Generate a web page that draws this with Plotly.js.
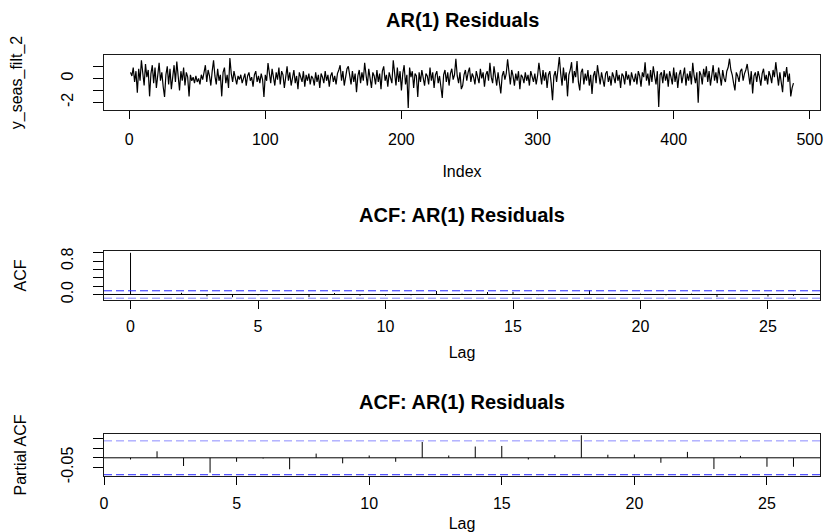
<!DOCTYPE html>
<html>
<head>
<meta charset="utf-8">
<script src="https://cdn.plot.ly/plotly-3.0.1.min.js"></script>
<style>
  html, body { margin: 0; padding: 0; background: #fff; }
  #chart { width: 827px; height: 532px; }
</style>
</head>
<body>
<div id="chart"></div>
<script>
// ---- Data ----
const residuals = [
  0.5, 0.2, 0.9, -0.3, 0.6, -1.2, 0.8, -0.2, 1.5, 0.3,
  -0.6, 1.2, 0.1, 0.7, -1.5, 0.4, 1.1, -0.4, 0.9, -0.8,
  0.6, 1.3, -0.2, 0.5, -0.7, -1.55, 0.3, 1.0, -0.5, 0.8,
  -0.9, 0.4, 1.1, -0.3, 1.4, 0.2, -1.0, 0.6, -0.2, 0.9,
  -0.6, 0.5, 0.1, -1.5, 0.3, -0.2, 0.1, -0.4, 0.2, -0.3,
  0.0, -0.5, 0.3, -0.1, 0.4, 1.1, -0.3, 0.7, 0.2, -0.6,
  0.6, 1.5, 0.2, -0.5, 0.8, -0.2, 0.3, -1.5, 0.5, 0.9,
  -0.4, 0.3, -0.8, 1.7, 0.4, -0.3, 0.6, 0.1, -0.5, 0.2,
  -0.1, 0.3, -0.4, 0.0, 0.4, -0.6, 0.2, 0.5, -0.2, 0.1,
  -0.7, 0.3, 0.6, -0.3, 0.2, -0.4, 0.4, -0.1, -1.55, 0.3,
  -0.2, 1.27, 0.5, -0.4, 0.8, 0.2, -0.6, 0.5, -0.1, 0.9,
  -0.5, 0.6, 0.3, -0.8, 0.4, 1.0, -0.2, 0.5, -0.6, 0.3,
  0.7, -0.4, 0.2, -0.9, 0.5, 0.1, -0.3, 0.6, -0.7, 0.3,
  -0.2, 0.4, -0.5, 0.2, 0.0, -0.6, 0.5, -0.3, 0.3, -0.8,
  0.4, 0.1, -0.4, 0.6, -0.2, 0.3, -0.7, 0.2, 0.5, -0.3,
  0.2, -0.5, 0.4, 0.7, 1.1, -0.2, 0.6, -0.6, 0.3, 0.8,
  1.0, 0.1, -0.5, 0.6, -0.3, 0.4, -1.15, 0.2, 0.7, -0.4,
  0.5, -0.2, 1.3, 0.3, -0.6, 0.8, 0.0, -0.8, 0.5, 0.2,
  -0.5, 0.7, -0.3, 0.4, -0.9, 0.6, 1.0, -0.2, 0.3, -0.7,
  0.5, 0.1, -0.4, 1.5, 0.2, -0.6, 0.9, -0.3, 0.6, -1.0,
  0.4, 1.1, -0.5, 0.3, -2.47, 0.9, 0.1, 0.6, -0.8, 0.4,
  0.2, -1.55, 0.5, -0.3, 0.7, 0.0, -0.6, 0.4, 0.2, -0.5,
  0.9, -0.2, 0.5, -0.8, 0.3, 0.6, -0.4, 0.2, -0.9, -1.64,
  0.3, 0.7, -0.3, 0.5, -0.6, 0.4, 0.8, -0.1, 0.3, 1.64,
  0.2, -0.4, 0.5, -0.9, -0.6, 0.3, 0.7, -0.2, 0.5, 0.9,
  -0.3, 0.4, 0.1, -0.5, 0.6, 0.2, -0.4, 0.8, 0.0, 0.5,
  -0.7, 0.3, 0.6, -0.2, 1.3, 0.1, -0.4, 1.0, 0.3, -0.6,
  0.5, -0.3, -1.25, 0.2, 0.6, -0.1, 0.4, 1.6, 0.5, -0.5,
  0.7, 0.2, -0.6, 0.4, -0.2, 0.6, -0.9, 0.3, 0.1, -0.4,
  0.5, -0.2, 0.3, -0.6, 0.6, 0.0, -0.3, 0.4, -0.5, 0.2,
  1.3, 0.4, -0.5, 0.7, -0.2, 0.5, -0.8, 0.3, 0.6, -0.4,
  -1.83, 0.2, 0.6, -0.3, 0.8, 1.78, 0.4, -0.6, 0.9, -0.2,
  0.5, -1.5, 0.3, 0.7, 1.35, -0.4, 0.6, 0.1, 1.45, -0.3,
  -1.0, 0.5, 0.8, -0.5, 0.4, -0.2, 0.7, -0.6, 0.3, -1.3,
  0.2, 0.6, -0.4, 1.1, 0.3, -0.5, 0.5, 0.0, -0.7, 0.4,
  0.6, -0.3, 0.2, -0.6, 0.5, 0.1, -0.4, 0.7, -0.2, 0.3,
  -0.8, 0.4, 0.2, -0.5, 0.6, -0.1, 0.3, -0.6, 0.5, 0.0,
  -0.3, 0.4, -0.5, 0.6, 0.2, -0.7, 0.5, 0.1, 1.35, -0.2,
  0.4, -0.6, 0.7, -0.3, 1.0, 0.2, -0.5, 0.6, -2.39, 0.3,
  0.5, -0.4, 0.7, -0.2, 0.4, -0.7, 0.6, 0.1, -0.5, 0.9,
  -0.3, 0.5, -0.8, 0.3, 0.7, -0.4, 0.2, 0.9, -0.6, 0.4,
  -0.2, 0.6, -0.5, 1.3, 0.2, -0.4, 0.5, -2.03, 0.6, 0.3,
  -0.5, 0.8, 0.1, 1.0, -0.3, 0.6, -0.6, 0.4, 1.1, -0.2,
  0.5, -0.4, 0.9, 0.2, -0.6, 0.7, 0.0, -0.3, 0.6, 0.9,
  1.64, 0.7, 0.3, -0.4, -1.0, 0.5, 0.2, -0.3, 0.6, 0.8,
  -0.2, 0.4, 0.7, 1.2, 0.3, -0.5, 0.6, -1.25, 0.2, 0.5,
  -0.3, 0.6, 0.1, -0.6, 0.4, 0.8, -0.2, 0.3, -0.5, 0.6,
  0.2, -0.4, 0.7, 0.1, 1.35, 0.3, -0.6, 0.5, -0.2, -1.15,
  0.6, 0.1, 0.95, -0.3, 0.4, -1.5, -0.8, -0.4
];
const acfLags = [0,1,2,3,4,5,6,7,8,9,10,11,12,13,14,15,16,17,18,19,20,21,22,23,24,25,26];
const acfValues = [1.0, -0.01, 0.04, -0.045, -0.065, -0.02, 0.0, -0.06, 0.035, -0.03, -0.025, -0.02, 0.085,
                   0.02, 0.06, 0.06, -0.015, 0.005, 0.10, 0.005, 0.02, -0.02, 0.02, -0.06, 0.01, -0.05, -0.03];
const pacfLags = [1,2,3,4,5,6,7,8,9,10,11,12,13,14,15,16,17,18,19,20,21,22,23,24,25,26];
const pacfValues = [-0.009, 0.034, -0.043, -0.078, -0.021, -0.004, -0.060, 0.022, -0.029, 0.012, -0.021, 0.083,
                    0.012, 0.059, 0.062, -0.009, 0.014, 0.118, 0.016, 0.017, -0.026, 0.031, -0.059, 0.010, -0.047, -0.047];
const ciBound = 0.0887;

const topXTicks = [0, 100, 200, 300, 400, 500];
const topYTicks = [-2, -1, 0, 1];
const topYTickText = ['-2', '', '0', ''];
const lagTicks = [0, 5, 10, 15, 20, 25];
const acfYTicks = [0, 0.2, 0.4, 0.6, 0.8, 1.0];
const acfYTickText = ['0.0', '', '', '', '0.8', ''];
const pacfYTicks = [-0.05, 0, 0.05, 0.10];
const pacfYTickText = ['-0.05', '', '', ''];

// ---- helpers ----
const W = 827, H = 532;
const px = v => v / W;
const py = v => 1 - v / H;
function rRange(arr) {            // R-style 4% range extension
  const lo = Math.min(...arr), hi = Math.max(...arr);
  const d = (hi - lo) * 0.04;
  return [lo - d, hi + d];
}
function spikes(xs, ys) {         // type = "h" vertical lines
  const X = [], Y = [];
  xs.forEach((x, i) => { X.push(x, x, null); Y.push(0, ys[i], null); });
  return { x: X, y: Y };
}

const idx = residuals.map((_, i) => i + 1);
const acfS = spikes(acfLags, acfValues);
const pacfS = spikes(pacfLags, pacfValues);

const font = { family: 'Liberation Sans, Arial, sans-serif', size: 16, color: '#000' };
const titleFont = { family: 'Liberation Sans, Arial, sans-serif', size: 20, color: '#000' };
const xDom = [px(104), px(820)];

function axis(extra) {
  return Object.assign({
    showline: true, mirror: true, linecolor: '#1a1a1a', linewidth: 1,
    ticks: 'outside', ticklen: 8, tickwidth: 1, tickcolor: '#000',
    showgrid: false, zeroline: false, tickfont: font, automargin: false,
    fixedrange: true
  }, extra);
}
function yaxisCfg(extra) {
  return axis(Object.assign({ ticklen: 10, tickangle: -90, ticklabelstandoff: 14 }, extra));
}

const traces = [
  { type: 'scatter', mode: 'lines', x: idx, y: residuals, xaxis: 'x', yaxis: 'y',
    line: { color: '#000', width: 1.2 }, hoverinfo: 'skip' },
  { type: 'scatter', mode: 'lines', x: acfS.x, y: acfS.y, xaxis: 'x2', yaxis: 'y2',
    line: { color: '#000', width: 1 }, connectgaps: false, hoverinfo: 'skip' },
  { type: 'scatter', mode: 'lines', x: pacfS.x, y: pacfS.y, xaxis: 'x3', yaxis: 'y3',
    line: { color: '#000', width: 1 }, connectgaps: false, hoverinfo: 'skip' }
];

function hline(ax, y, color, dash) {
  return { type: 'line', xref: 'x' + ax + ' domain', yref: 'y' + ax, x0: 0, x1: 1, y0: y, y1: y,
           line: { color: color, width: 1, dash: dash }, layer: 'above' };
}

const layout = {
  width: W, height: H,
  margin: { l: 0, r: 0, t: 0, b: 0 },
  paper_bgcolor: '#fff', plot_bgcolor: '#fff',
  showlegend: false,
  font: font,
  xaxis: axis({ domain: xDom, anchor: 'y', range: rRange([1, residuals.length]), tickvals: topXTicks,
    ticklabelstandoff: 7, title: { text: 'Index', font: font, standoff: 18 } }),
  yaxis: yaxisCfg({ domain: [py(110), py(55)], anchor: 'x', range: rRange(residuals),
    tickvals: topYTicks, ticktext: topYTickText,
    title: { text: 'y_seas_filt_2', font: font, standoff: 31 } }),
  xaxis2: axis({ domain: xDom, anchor: 'y2', range: rRange(acfLags), tickvals: lagTicks,
    ticklabelstandoff: 4, title: { text: 'Lag', font: font, standoff: 12 } }),
  yaxis2: yaxisCfg({ domain: [py(300), py(251)], anchor: 'x2',
    range: rRange(acfValues.concat([-ciBound, ciBound])),
    tickvals: acfYTicks, ticktext: acfYTickText,
    title: { text: 'ACF', font: font, standoff: 27 } }),
  xaxis3: axis({ domain: xDom, anchor: 'y3', range: rRange(pacfLags), tickvals: lagTicks,
    ticklabelstandoff: 4, title: { text: 'Lag', font: font, standoff: 10 } }),
  yaxis3: yaxisCfg({ domain: [py(476.3), py(433.7)], anchor: 'x3',
    range: rRange(pacfValues.concat([-ciBound, ciBound])),
    tickvals: pacfYTicks, ticktext: pacfYTickText,
    title: { text: 'Partial ACF', font: font, standoff: 27 } }),
  shapes: [
    hline(2, 0, '#000', 'solid'),
    hline(2, ciBound, '#2424ff', '8px,4px'),
    hline(2, -ciBound, '#7c7cff', '8px,4px'),
    hline(3, 0, '#000', 'solid'),
    hline(3, ciBound, '#8a8aff', '8px,4px'),
    hline(3, -ciBound, '#2424ff', '8px,4px')
  ],
  annotations: [
    { text: '<b>AR(1) Residuals</b>', x: px(462), y: py(20), xref: 'paper', yref: 'paper',
      showarrow: false, xanchor: 'center', yanchor: 'middle', font: titleFont },
    { text: '<b>ACF: AR(1) Residuals</b>', x: px(462), y: py(215), xref: 'paper', yref: 'paper',
      showarrow: false, xanchor: 'center', yanchor: 'middle', font: titleFont },
    { text: '<b>ACF: AR(1) Residuals</b>', x: px(462), y: py(402), xref: 'paper', yref: 'paper',
      showarrow: false, xanchor: 'center', yanchor: 'middle', font: titleFont }
  ]
};

Plotly.newPlot('chart', traces, layout, { displayModeBar: false, staticPlot: true });
</script>
</body>
</html>
